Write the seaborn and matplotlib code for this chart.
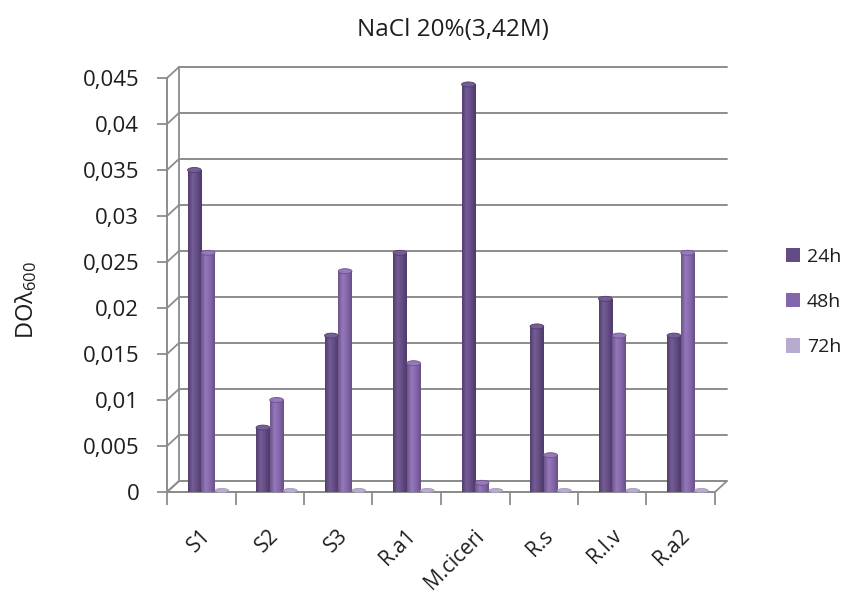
import numpy as np
import pandas as pd
import matplotlib
matplotlib.use("Agg")
import matplotlib.pyplot as plt
import matplotlib.transforms as mtransforms
from matplotlib.colors import LinearSegmentedColormap, to_rgb
from matplotlib.patches import Ellipse, Polygon, Patch
import seaborn as sns

# Optical density at 600 nm for each strain under 20% NaCl
strains = ["S1", "S2", "S3", "R.a1", "M.ciceri", "R.s", "R.l.v", "R.a2"]
od_24h = [0.035, 0.007, 0.017, 0.026, 0.0443, 0.018, 0.021, 0.017]
od_48h = [0.026, 0.010, 0.024, 0.014, 0.001, 0.004, 0.017, 0.026]
od_72h = [0.0, 0.0, 0.0, 0.0, 0.0, 0.0, 0.0, 0.0]
times = ["24h", "48h", "72h"]
y_ticks = [0, 0.005, 0.01, 0.015, 0.02, 0.025, 0.03, 0.035, 0.04, 0.045]
y_tick_labels = ["0", "0,005", "0,01", "0,015", "0,02", "0,025", "0,03",
                 "0,035", "0,04", "0,045"]

df = pd.DataFrame({
    "strain": strains * 3,
    "time": np.repeat(times, len(strains)),
    "od": od_24h + od_48h + od_72h,
})

sns.set_theme(style="white")
plt.rcParams["font.family"] = ["Open Sans", "DejaVu Sans"]
plt.rcParams["mathtext.default"] = "regular"

colors = {"24h": "#634b84", "48h": "#8466aa", "72h": "#b9abd0"}
grid_col = "#8c8c8c"
text_col = "#1e1e1e"

fig = plt.figure(figsize=(8.5, 5.94), dpi=100)
ax = fig.add_axes([167 / 850, 102 / 594, 548 / 850, 414 / 594])

sns.barplot(data=df, x="strain", y="od", hue="time", order=strains,
            hue_order=times, palette=colors, width=0.6, saturation=1,
            legend=False, ax=ax, zorder=3, linewidth=0)

x0, x1 = -0.6, 7.4
ax.set_xlim(x0, x1)
ax.set_ylim(0, 0.045)
for s in ax.spines.values():
    s.set_visible(False)

# depth offset of the back wall (pixels right / up)
dx, dy = 12, 11
off = mtransforms.ScaledTranslation(dx / 100, dy / 100, fig.dpi_scale_trans)
back = ax.transData + off
ident = mtransforms.IdentityTransform()

# floor
floor_pts = np.array([ax.transData.transform((x0, 0)),
                      ax.transData.transform((x1, 0)),
                      back.transform((x1, 0)),
                      back.transform((x0, 0))])
ax.add_patch(Polygon(floor_pts, closed=True, transform=ident,
                     facecolor="white", edgecolor=grid_col, lw=1.3,
                     clip_on=False, zorder=0.5))

# back wall gridlines and left wall
for yv in y_ticks:
    ax.plot([x0, x1], [yv, yv], transform=back, color=grid_col, lw=1.4,
            clip_on=False, zorder=1)
    p_front = ax.transData.transform((x0, yv))
    p_back = back.transform((x0, yv))
    ax.plot([p_front[0], p_back[0]], [p_front[1], p_back[1]],
            transform=ident, color=grid_col, lw=1.3, clip_on=False, zorder=1)
ax.plot([x0, x0], [0, 0.045], transform=back, color=grid_col, lw=1.3,
        clip_on=False, zorder=1)
ax.plot([x0, x0], [0, 0.045], color=grid_col, lw=1.4, clip_on=False, zorder=2)
ax.plot([x0, x1], [0, 0], color=grid_col, lw=1.4, clip_on=False, zorder=2)

# cylinder shading on each bar
px_y = 0.045 / 414
for patch, time in zip(ax.patches, np.repeat(times, len(strains))):
    if not hasattr(patch, "get_height"):
        continue
    bx, bw, bh = patch.get_x(), patch.get_width(), patch.get_height()
    base = np.array(to_rgb(colors[time]))
    light = np.clip(base + 0.07, 0, 1)
    dark = base * 0.82
    if bh > 0:
        cmap = LinearSegmentedColormap.from_list(
            "cyl", [dark, light, base, dark * 0.95])
        grad = np.linspace(0, 1, 64).reshape(1, -1)
        im = ax.imshow(grad, extent=[bx, bx + bw, 0, bh], aspect="auto",
                       cmap=cmap, zorder=3.1, interpolation="bicubic")
        im.set_clip_path(patch)
        ax.add_patch(Ellipse((bx + bw / 2, bh), bw, 5 * px_y,
                             facecolor=light, edgecolor=dark, lw=0.6,
                             zorder=3.2, clip_on=False))
    else:
        ax.add_patch(Ellipse((bx + bw / 2, 1.5 * px_y), bw, 4 * px_y,
                             facecolor=colors[time], edgecolor="#a79cb9",
                             lw=0.6, zorder=3.2, clip_on=False))

ax.set_xlim(x0, x1)
ax.set_ylim(0, 0.045)

# ticks: labels sit under each category, tick marks on the boundaries
ax.set_yticks(y_ticks, y_tick_labels)
ax.set_xticks(np.arange(len(strains)) - 0.12, strains)
ax.set_xticks(np.arange(x0, x1 + 0.01, 1.0), minor=True)
ax.tick_params(axis="y", left=True, length=7, width=1.3, color=grid_col,
               labelsize=16, pad=13, labelcolor=text_col)
ax.tick_params(axis="x", which="major", bottom=True, length=0, labelsize=15,
               pad=24, labelcolor=text_col)
ax.tick_params(axis="x", which="minor", bottom=True, length=9, width=1.3,
               color=grid_col)
for lab in ax.get_xticklabels():
    lab.set_rotation(45)
    lab.set_ha("right")
    lab.set_rotation_mode("anchor")
ax.set_xlabel("")
ax.set_ylabel("")

fig.text(453 / 850, 1 - 30 / 594, "NaCl 20%(3,42M)", ha="center",
         va="center", fontsize=17.5, color=text_col)
fig.text(26 / 850, 1 - 300 / 594, "DOλ$_{600}$", rotation=90, ha="center",
         va="center", fontsize=17, color=text_col)

handles = [Patch(facecolor=colors[t], edgecolor="none", label=t) for t in times]
fig.legend(handles=handles, loc="center left",
           bbox_to_anchor=(768 / 850, 1 - 302 / 594), frameon=False,
           fontsize=14, handlelength=0.75, handleheight=0.75,
           handletextpad=0.35, labelspacing=1.4, labelcolor=text_col)

fig.savefig("out.png", dpi=100)
